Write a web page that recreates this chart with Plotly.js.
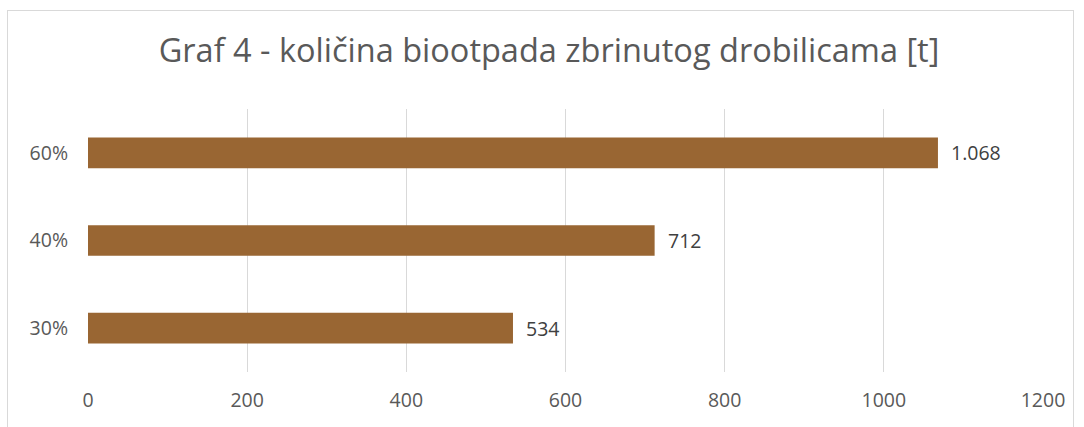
<!DOCTYPE html>
<html>
<head>
<meta charset="utf-8">
<script src="https://cdn.plot.ly/plotly-3.0.1.min.js"></script>
<style>
  html, body { margin: 0; padding: 0; background: #fff; }
  #frame { position: absolute; left: 7px; top: 10px; width: 1067px; height: 440px; border: 1px solid #d9d9d9; box-sizing: border-box; }
  #chart { position: absolute; left: 0; top: 0; width: 1084px; height: 427px; }
</style>
</head>
<body>
<div id="frame"></div>
<div id="chart"></div>
<script>
const categories = ['30%', '40%', '60%'];
const values = [534, 712, 1068];
const valueLabels = ['534', '712', '1.068'];
const tickValues = [0, 200, 400, 600, 800, 1000, 1200];
const titleText = 'Graf 4 - količina biootpada zbrinutog drobilicama [t]';

const FONT = 'Open Sans, Lato, sans-serif';
const TXT = '#595959';

const trace = {
  type: 'bar',
  orientation: 'h',
  x: values,
  y: categories,
  marker: { color: '#996633' },
  hoverinfo: 'none'
};

const annotations = values.map((v, i) => ({
  x: v, y: categories[i], xref: 'x', yref: 'y',
  text: valueLabels[i],
  showarrow: false, xanchor: 'left', yanchor: 'middle', xshift: 11,
  font: { family: FONT, size: 19.5, color: '#404040' }
}));

const layout = {
  width: 1084, height: 427,
  margin: { l: 88, r: 41, t: 109, b: 55 },
  paper_bgcolor: 'rgba(0,0,0,0)',
  plot_bgcolor: 'rgba(0,0,0,0)',
  title: {
    text: titleText,
    font: { family: FONT, size: 32.5, color: TXT },
    x: 549 / 1084, xanchor: 'center', xref: 'container',
    y: 1 - 51 / 427, yanchor: 'middle', yref: 'container'
  },
  bargap: 0.65,
  showlegend: false,
  xaxis: {
    range: [0, 1200],
    tickvals: tickValues,
    ticktext: tickValues.map(String),
    showgrid: true, gridcolor: '#d9d9d9', gridwidth: 1,
    zeroline: false, showline: false,
    ticks: '', ticklabelstandoff: 14,
    tickfont: { family: FONT, size: 19.5, color: TXT },
    fixedrange: true
  },
  yaxis: {
    type: 'category',
    categoryorder: 'array', categoryarray: categories,
    showgrid: false, zeroline: false, showline: false,
    ticks: '', ticklabelstandoff: 19,
    tickfont: { family: FONT, size: 19.5, color: TXT },
    fixedrange: true
  },
  annotations: annotations
};

Plotly.newPlot('chart', [trace], layout, { staticPlot: true, displayModeBar: false });
</script>
</body>
</html>
